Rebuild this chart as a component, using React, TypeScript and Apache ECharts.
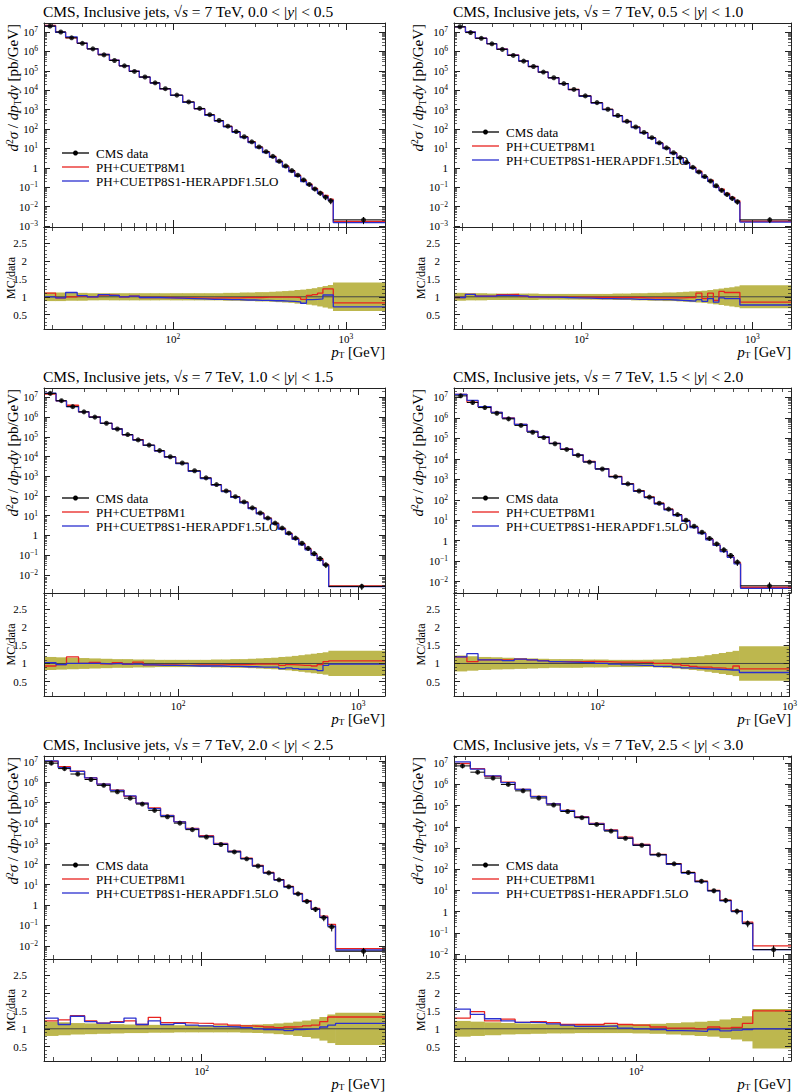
import React, { useEffect, useRef } from 'react';
import * as echarts from 'echarts';

// ---------------- data ----------------
const EDGES = [18, 21, 24, 28, 32, 37, 43, 49, 56, 64, 74, 84, 97, 114, 133, 153, 174, 196, 220, 245, 272, 300, 330, 362, 395, 430, 468, 507, 548, 592, 638, 686, 737, 790, 846];
const Y_LO = ['0.0', '0.5', '1.0', '1.5', '2.0', '2.5'];
const Y_HI = ['0.5', '1.0', '1.5', '2.0', '2.5', '3.0'];
const N_REGULAR = [34, 34, 31, 28, 25, 21];
const LAST_EDGE = [1684, 1684, 1410, 1000, 737, 430];

const CMS_1 = [2.0e7, 1.0e7, 5.0e6, 2.6e6, 1.35e6, 6.6e5, 3.4e5, 1.8e5, 9.3e4, 4.8e4, 2.4e4, 1.2e4, 5.6e3, 2.5e3, 1.15e3, 5.5e2, 2.75e2, 1.4e2, 7.4e1, 4.0e1, 2.2e1, 1.2e1, 6.8, 3.9, 2.2, 1.25, 0.72, 0.42, 0.24, 0.14, 0.082, 0.05, 0.031, 0.02, 0.0021];
const CMS_2 = [1.85e7, 9.3e6, 4.7e6, 2.45e6, 1.27e6, 6.2e5, 3.15e5, 1.67e5, 8.6e4, 4.4e4, 2.2e4, 1.1e4, 5.1e3, 2.3e3, 1.05e3, 5.0e2, 2.5e2, 1.28e2, 6.7e1, 3.6e1, 1.95e1, 1.07e1, 6.0, 3.4, 1.9, 1.07, 0.62, 0.36, 0.21, 0.12, 0.07, 0.043, 0.027, 0.018, 0.0021];
const CMS_3 = [1.6e7, 6.8e6, 3.4e6, 1.85e6, 1.0e6, 4.9e5, 2.5e5, 1.3e5, 7.0e4, 3.8e4, 2.0e4, 9.8e3, 4.7e3, 1.9e3, 8.3e2, 3.8e2, 1.8e2, 9.2e1, 5.0e1, 2.5e1, 1.37e1, 7.6, 4.2, 2.35, 1.3, 0.73, 0.4, 0.22, 0.12, 0.067, 0.032, 0.0026];
const CMS_4 = [1.2e7, 5.7e6, 3.2e6, 1.7e6, 9.0e5, 4.3e5, 2.0e5, 1.1e5, 5.5e4, 2.9e4, 1.5e4, 7.0e3, 3.2e3, 1.35e3, 6.0e2, 2.7e2, 1.35e2, 6.8e1, 3.5e1, 1.9e1, 1.0e1, 5.1, 2.6, 1.3, 0.7, 0.36, 0.19, 0.09, 0.0063];
const CMS_5 = [8.5e6, 4.6e6, 2.5e6, 1.35e6, 7.0e5, 3.4e5, 1.65e5, 8.5e4, 4.2e4, 2.05e4, 1.0e4, 4.8e3, 2.1e3, 9.0e2, 3.9e2, 1.8e2, 8.0e1, 3.7e1, 1.7e1, 7.8, 3.5, 1.5, 0.62, 0.24, 0.085, 0.0055];
const CMS_6 = [7.5e6, 3.8e6, 2.0e6, 1.0e6, 5.0e5, 2.3e5, 1.07e5, 5.3e4, 2.7e4, 1.3e4, 6.3e3, 2.9e3, 1.35e3, 4.8e2, 1.8e2, 7.0e1, 2.7e1, 9.6, 3.4, 1.05, 0.28, 0.016];

// MC / data ratios (PH+CUETP8M1 = red, PH+CUETP8S1-HERAPDF1.5LO = blue)
const RED_1 = [1.10, 0.97, 1.00, 1.02, 1.00, 1.05, 1.04, 1.00, 1.02, 0.98, 0.98, 0.98, 0.97, 0.97, 0.96, 0.96, 0.97, 0.97, 0.97, 0.98, 0.98, 0.98, 0.99, 0.99, 0.99, 0.99, 0.99, 0.98, 0.93, 1.04, 1.06, 1.10, 1.22, 1.22, 0.83];
const BLUE_1 = [1.00, 0.97, 1.12, 1.03, 1.00, 1.06, 1.04, 1.00, 1.02, 0.98, 0.98, 0.97, 0.96, 0.95, 0.94, 0.93, 0.93, 0.92, 0.92, 0.91, 0.91, 0.90, 0.90, 0.89, 0.89, 0.88, 0.87, 0.86, 0.82, 0.92, 0.93, 0.94, 1.05, 1.05, 0.72];
const RED_2 = [0.98, 1.07, 1.02, 1.02, 1.06, 1.07, 1.02, 1.00, 0.99, 0.99, 0.99, 0.99, 0.99, 0.98, 0.98, 0.98, 0.98, 0.98, 0.97, 0.97, 0.97, 0.97, 0.97, 0.97, 0.98, 0.98, 1.10, 0.95, 1.10, 0.90, 1.15, 1.12, 1.12, 1.12, 0.85];
const BLUE_2 = [0.98, 1.07, 1.02, 1.02, 1.04, 1.03, 1.02, 1.00, 0.99, 0.99, 0.98, 0.97, 0.96, 0.95, 0.95, 0.94, 0.94, 0.93, 0.93, 0.92, 0.92, 0.92, 0.91, 0.90, 0.89, 0.88, 0.92, 0.87, 0.95, 0.85, 0.97, 0.95, 0.95, 0.95, 0.77];
const RED_3 = [0.93, 0.97, 1.18, 1.00, 1.03, 0.99, 1.02, 0.98, 1.04, 0.96, 0.96, 0.96, 0.95, 0.96, 0.96, 0.96, 0.97, 0.97, 0.97, 0.98, 0.98, 0.98, 0.98, 0.95, 0.97, 0.96, 0.95, 0.95, 0.93, 0.97, 1.05, 1.07];
const BLUE_3 = [1.02, 0.97, 1.00, 1.00, 1.00, 0.99, 1.00, 0.98, 0.98, 0.96, 0.95, 0.95, 0.94, 0.93, 0.93, 0.93, 0.92, 0.92, 0.91, 0.91, 0.90, 0.90, 0.90, 0.86, 0.88, 0.86, 0.84, 0.84, 0.83, 0.80, 0.95, 0.98];
const RED_4 = [1.18, 1.05, 1.10, 1.10, 1.10, 1.12, 1.10, 1.08, 1.05, 1.05, 1.05, 1.06, 1.05, 1.04, 1.04, 1.03, 1.03, 1.00, 1.00, 0.98, 0.95, 0.92, 0.90, 0.90, 0.88, 0.87, 0.85, 0.93, 0.85];
const BLUE_4 = [1.18, 1.27, 1.10, 1.10, 1.08, 1.12, 1.10, 1.07, 1.05, 1.04, 1.03, 1.02, 1.00, 0.98, 0.96, 0.95, 0.95, 0.92, 0.92, 0.90, 0.88, 0.87, 0.86, 0.85, 0.84, 0.83, 0.82, 0.82, 0.75];
const RED_5 = [1.22, 1.25, 1.37, 1.22, 1.16, 1.20, 1.22, 1.12, 1.32, 1.17, 1.17, 1.16, 1.15, 1.13, 1.10, 1.08, 1.07, 1.05, 1.03, 1.05, 1.06, 1.08, 1.10, 1.20, 1.33, 1.33];
const BLUE_5 = [1.30, 1.12, 1.35, 1.20, 1.16, 1.18, 1.30, 1.12, 1.22, 1.12, 1.15, 1.10, 1.08, 1.06, 1.05, 1.03, 1.00, 0.98, 0.97, 0.95, 0.98, 0.99, 1.00, 1.05, 1.10, 1.15];
const RED_6 = [1.30, 1.48, 1.22, 1.27, 1.18, 1.20, 1.17, 1.12, 1.12, 1.12, 1.15, 1.12, 1.10, 1.05, 1.02, 1.02, 1.00, 1.05, 1.02, 1.04, 1.15, 1.50];
const BLUE_6 = [1.55, 1.40, 1.28, 1.22, 1.18, 1.17, 1.14, 1.10, 1.07, 1.07, 1.08, 1.02, 1.00, 0.98, 0.95, 0.94, 0.93, 0.98, 0.94, 0.96, 0.98, 1.00];

// relative data uncertainty (half-width of the band)
const UNC_1 = [0.12, 0.12, 0.11, 0.11, 0.10, 0.10, 0.10, 0.10, 0.10, 0.10, 0.10, 0.10, 0.10, 0.10, 0.10, 0.10, 0.10, 0.11, 0.11, 0.12, 0.12, 0.13, 0.13, 0.14, 0.15, 0.16, 0.17, 0.19, 0.20, 0.22, 0.24, 0.27, 0.30, 0.33, 0.40];
const UNC_2 = [0.11, 0.10, 0.10, 0.09, 0.09, 0.09, 0.09, 0.09, 0.08, 0.08, 0.08, 0.08, 0.08, 0.08, 0.08, 0.09, 0.09, 0.10, 0.10, 0.11, 0.11, 0.12, 0.12, 0.13, 0.14, 0.15, 0.16, 0.17, 0.19, 0.21, 0.23, 0.25, 0.27, 0.29, 0.32];
const UNC_3 = [0.18, 0.17, 0.16, 0.15, 0.14, 0.13, 0.12, 0.12, 0.11, 0.11, 0.10, 0.10, 0.10, 0.10, 0.10, 0.11, 0.11, 0.12, 0.12, 0.13, 0.14, 0.15, 0.16, 0.18, 0.19, 0.21, 0.23, 0.25, 0.27, 0.29, 0.31, 0.35];
const UNC_4 = [0.22, 0.20, 0.18, 0.17, 0.16, 0.15, 0.14, 0.13, 0.12, 0.12, 0.12, 0.11, 0.11, 0.10, 0.10, 0.10, 0.10, 0.11, 0.12, 0.14, 0.16, 0.18, 0.20, 0.23, 0.26, 0.29, 0.32, 0.35, 0.48];
const UNC_5 = [0.20, 0.18, 0.16, 0.15, 0.14, 0.13, 0.12, 0.12, 0.11, 0.11, 0.10, 0.10, 0.10, 0.10, 0.10, 0.11, 0.12, 0.13, 0.15, 0.17, 0.20, 0.23, 0.27, 0.33, 0.40, 0.45];
const UNC_6 = [0.22, 0.20, 0.18, 0.16, 0.15, 0.14, 0.13, 0.13, 0.12, 0.12, 0.12, 0.12, 0.13, 0.14, 0.16, 0.18, 0.20, 0.22, 0.26, 0.30, 0.35, 0.55];

const CMS = [CMS_1, CMS_2, CMS_3, CMS_4, CMS_5, CMS_6];
const RED_R = [RED_1, RED_2, RED_3, RED_4, RED_5, RED_6];
const BLUE_R = [BLUE_1, BLUE_2, BLUE_3, BLUE_4, BLUE_5, BLUE_6];
const UNC = [UNC_1, UNC_2, UNC_3, UNC_4, UNC_5, UNC_6];

const LEGEND_LABELS = ['CMS data', 'PH+CUETP8M1', 'PH+CUETP8S1-HERAPDF1.5LO'];

// axis ticks
const X_MAJOR = [100, 1000];
const X_MINOR = [20, 30, 40, 50, 60, 70, 80, 90, 200, 300, 400, 500, 600, 700, 800, 900, 2000];
const Y_MAJOR = [1e-3, 1e-2, 1e-1, 1, 10, 100, 1e3, 1e4, 1e5, 1e6, 1e7];
const Y_MINOR: number[] = [];
for (let k = -4; k <= 7; k++) for (let m = 2; m <= 9; m++) Y_MINOR.push(m * Math.pow(10, k));
const R_MAJOR = [0.5, 1, 1.5, 2, 2.5];
const R_MINOR = [0.2, 0.3, 0.4, 0.6, 0.7, 0.8, 0.9, 1.1, 1.2, 1.3, 1.4, 1.6, 1.7, 1.8, 1.9, 2.1, 2.2, 2.3, 2.4, 2.6, 2.7, 2.8, 2.9];
const Y_MIN = [9e-4, 9e-4, 1.2e-3, 2.8e-3, 2.3e-3, 5.8e-3];
const Y_MAX = [2.9e7, 2.9e7, 3.0e7, 2.9e7, 1.9e7, 2.2e7];
const R_MIN = 0.1;
const R_MAX = 2.95;

// ---------------- layout / style ----------------
const FONT = '"Liberation Serif", "Times New Roman", serif';
const AX = '#222';
const RED = '#e8231f';
const BLUE = '#2a2fd0';
const BAND = '#bdb74e';
const COL_LEFT = [44, 454];
const COL_WIDTH = [341, 337];
const ROW_TOP = [23, 388, 756];
const MAIN_H = [204, 205, 203];
const RATIO_H = [102, 103, 102];
const YLABEL_GAP = [31, 36];
const RLABEL_MARGIN = [17, 14];
const LEGEND_DY = [130, 109, 110, 110, 109, 109];

const LABEL_RICH = {
  b: { fontSize: 11, lineHeight: 13, fontFamily: FONT, color: '#000' },
  s: { fontSize: 7.5, lineHeight: 7, verticalAlign: 'top', fontFamily: FONT, color: '#000' },
};
const mkRich = (size: number, lh: number) => ({
  n: { fontSize: size, fontFamily: FONT, fill: '#000', lineHeight: lh },
  i: { fontSize: size, fontFamily: FONT, fontStyle: 'italic', fill: '#000', lineHeight: lh },
  sp: { fontSize: size * 0.64, fontFamily: FONT, fill: '#000', lineHeight: lh * 0.55, verticalAlign: 'top' },
  sb: { fontSize: size * 0.64, fontFamily: FONT, fill: '#000', lineHeight: lh * 0.55, verticalAlign: 'bottom' },
});
const TITLE_RICH = mkRich(15.5, 18);
const YLAB_RICH = mkRich(15, 18);
const PT_RICH = mkRich(14.5, 14);

const supText = (n: number) => (n < 0 ? '\u2212' + -n : '' + n);
const logLabel = (v: number) => {
  const k = Math.round(Math.log10(v));
  return k === 0 ? '{b|1}' : '{b|10}{s|' + supText(k) + '}';
};
const ratioLabel = (v: number) => '{b|' + String(v) + '}';

function xAxes(g: number, xmin: number, xmax: number, labels: boolean) {
  const base: any = {
    type: 'log', logBase: 10, gridIndex: g, min: xmin, max: xmax, z: 5,
    splitLine: { show: false }, silent: true,
  };
  const line = { show: true, onZero: false, lineStyle: { color: AX, width: 1 } };
  const noLine = { show: false, onZero: false };
  const tick = (vals: number[], len: number, w: number) => ({ show: true, inside: true, length: len, customValues: vals, lineStyle: { color: AX, width: w } });
  return [
    { ...base, position: 'bottom', axisLine: line, axisTick: tick(X_MAJOR, 7, 1),
      axisLabel: { show: labels, customValues: X_MAJOR, formatter: logLabel, rich: LABEL_RICH, margin: 3 } },
    { ...base, position: 'bottom', axisLine: noLine, axisTick: tick(X_MINOR, 4, 0.8), axisLabel: { show: false } },
    { ...base, position: 'top', axisLine: line, axisTick: tick(X_MAJOR, 7, 1), axisLabel: { show: false } },
    { ...base, position: 'top', axisLine: noLine, axisTick: tick(X_MINOR, 4, 0.8), axisLabel: { show: false } },
  ];
}

function yAxes(g: number, type: string, min: number, max: number, major: number[], minor: number[], fmt: any, margin: number) {
  const base: any = { type, gridIndex: g, min, max, z: 5, splitLine: { show: false }, silent: true };
  if (type === 'log') base.logBase = 10;
  const line = { show: true, onZero: false, lineStyle: { color: AX, width: 1 } };
  const noLine = { show: false, onZero: false };
  const tick = (vals: number[], len: number, w: number) => ({ show: true, inside: true, length: len, customValues: vals, lineStyle: { color: AX, width: w } });
  return [
    { ...base, position: 'left', axisLine: line, axisTick: tick(major, 6, 1),
      axisLabel: { show: true, customValues: major, formatter: fmt, rich: LABEL_RICH, margin } },
    { ...base, position: 'left', axisLine: noLine, axisTick: tick(minor, 3, 0.7), axisLabel: { show: false } },
    { ...base, position: 'right', axisLine: line, axisTick: tick(major, 6, 1), axisLabel: { show: false } },
    { ...base, position: 'right', axisLine: noLine, axisTick: tick(minor, 3, 0.7), axisLabel: { show: false } },
  ];
}

const errRender = (params: any, api: any) => {
  const lo = api.value(0), hi = api.value(1), c = api.value(2), v = api.value(3), e = api.value(4);
  const a = api.coord([lo, v]);
  const b = api.coord([hi, v]);
  const t = api.coord([c, v * (1 + e)]);
  const u = api.coord([c, v * (1 - e)]);
  return {
    type: 'group',
    children: [
      { type: 'line', shape: { x1: a[0], y1: a[1], x2: b[0], y2: b[1] }, style: { stroke: '#000', lineWidth: 1 } },
      { type: 'line', shape: { x1: t[0], y1: t[1], x2: u[0], y2: u[1] }, style: { stroke: '#000', lineWidth: 1 } },
    ],
  };
};

const bandRender = (params: any, api: any) => {
  const a = api.coord([api.value(0), api.value(3)]);
  const b = api.coord([api.value(1), api.value(2)]);
  return {
    type: 'rect',
    shape: { x: a[0] - 0.3, y: a[1], width: b[0] - a[0] + 0.6, height: b[1] - a[1] },
    style: { fill: BAND },
  };
};

function buildOption() {
  const grid: any[] = [];
  const xAxis: any[] = [];
  const yAxis: any[] = [];
  const series: any[] = [];
  const graphic: any[] = [];

  for (let p = 0; p < 6; p++) {
    const col = p % 2;
    const row = Math.floor(p / 2);
    const left = COL_LEFT[col];
    const width = COL_WIDTH[col];
    const top = ROW_TOP[row];
    const mh = MAIN_H[row];
    const rh = RATIO_H[row];
    const n = N_REGULAR[p];
    const edges = EDGES.slice(0, n + 1).concat([LAST_EDGE[p]]);
    const xmin = edges[0];
    const xmax = LAST_EDGE[p];
    const vals = CMS[p];
    const red = RED_R[p];
    const blue = BLUE_R[p];
    const unc = UNC[p];
    const centers = vals.map((_, i) => (edges[i] + edges[i + 1]) / 2);
    const gm = 2 * p;
    const gr = 2 * p + 1;

    grid.push({ left, top, width, height: mh }, { left, top: top + mh, width, height: rh });
    xAxis.push(...xAxes(gm, xmin, xmax, false), ...xAxes(gr, xmin, xmax, true));
    yAxis.push(
      ...yAxes(gm, 'log', Y_MIN[p], Y_MAX[p], Y_MAJOR, Y_MINOR, logLabel, 6),
      ...yAxes(gr, 'value', R_MIN, R_MAX, R_MAJOR, R_MINOR, ratioLabel, RLABEL_MARGIN[col]),
    );

    const ax = (g: number) => ({ xAxisIndex: 4 * g, yAxisIndex: 4 * g });
    const step = (arr: number[]) => edges.map((e, i) => [e, arr[Math.min(i, arr.length - 1)]]);
    const redMain = vals.map((v, i) => v * red[i]);
    const blueMain = vals.map((v, i) => v * blue[i]);

    // main panel
    series.push({ type: 'line', ...ax(gm), data: step(redMain), step: 'end', symbol: 'none', silent: true, lineStyle: { color: RED, width: 1.3 }, z: 3 });
    series.push({ type: 'line', ...ax(gm), data: step(blueMain), step: 'end', symbol: 'none', silent: true, lineStyle: { color: BLUE, width: 1.3 }, z: 4 });
    series.push({
      type: 'custom', ...ax(gm), renderItem: errRender, silent: true, clip: true, z: 5,
      encode: { x: [0, 1, 2], y: [3] },
      data: vals.map((v, i) => [edges[i], edges[i + 1], centers[i], v, unc[i]]),
    });
    series.push({ type: 'scatter', ...ax(gm), data: vals.map((v, i) => [centers[i], v]), symbol: 'circle', symbolSize: 5, itemStyle: { color: '#000' }, silent: true, z: 6 });

    // ratio panel
    series.push({
      type: 'custom', ...ax(gr), renderItem: bandRender, silent: true, clip: true, z: 1,
      encode: { x: [0, 1], y: [2, 3] },
      data: unc.map((e, i) => [edges[i], edges[i + 1], 1 - e, 1 + e]),
    });
    series.push({ type: 'line', ...ax(gr), data: [[xmin, 1], [xmax, 1]], symbol: 'none', silent: true, lineStyle: { color: '#444', width: 1 }, z: 2 });
    series.push({ type: 'line', ...ax(gr), data: step(red), step: 'end', symbol: 'none', silent: true, lineStyle: { color: RED, width: 1.3 }, z: 3 });
    series.push({ type: 'line', ...ax(gr), data: step(blue), step: 'end', symbol: 'none', silent: true, lineStyle: { color: BLUE, width: 1.3 }, z: 4 });

    // texts
    graphic.push({
      type: 'text', x: left - 1, y: top - 11.5, silent: true,
      style: {
        text: '{n|CMS, Inclusive jets, \u221A}{i|s}{n| = 7 TeV, ' + Y_LO[p] + ' < |}{i|y}{n|| < ' + Y_HI[p] + '}',
        rich: TITLE_RICH, align: 'left', verticalAlign: 'middle',
      },
    });
    graphic.push({
      type: 'text', x: left - YLABEL_GAP[col], y: top + 1, rotation: Math.PI / 2, silent: true,
      style: {
        text: '{i|d}{sp|2}{i|\u03C3}{n| / }{i|dp}{sb|T}{i|dy}{n| [pb/GeV]}',
        rich: YLAB_RICH, align: 'right', verticalAlign: 'middle',
      },
    });
    graphic.push({
      type: 'text', x: left - 33, y: top + mh + rh / 2, rotation: Math.PI / 2, silent: true,
      style: { text: 'MC/data', fontSize: 12, lineHeight: 12, fontFamily: FONT, fill: '#000', align: 'center', verticalAlign: 'middle' },
    });
    graphic.push({
      type: 'text', x: left + width, y: top + mh + rh + 23, silent: true,
      style: { text: '{i|p}{sb|T}{n| [GeV]}', rich: PT_RICH, align: 'right', verticalAlign: 'middle' },
    });

    // legend
    const colors = ['#000', RED, BLUE];
    for (let k = 0; k < 3; k++) {
      const y = top + LEGEND_DY[p] + 14 * k;
      graphic.push({ type: 'line', silent: true, shape: { x1: left + 18, y1: y, x2: left + 45, y2: y }, style: { stroke: colors[k], lineWidth: 1.3 } });
      if (k === 0) graphic.push({ type: 'circle', silent: true, shape: { cx: left + 31.5, cy: y, r: 2.5 }, style: { fill: '#000' } });
      graphic.push({
        type: 'text', x: left + 52, y, silent: true,
        style: { text: LEGEND_LABELS[k], fontSize: 13, fontFamily: FONT, fill: '#000', align: 'left', verticalAlign: 'middle' },
      });
    }
  }

  return {
    animation: false,
    backgroundColor: '#fff',
    textStyle: { fontFamily: FONT },
    grid, xAxis, yAxis, series, graphic,
  };
}

export default function App() {
  const ref = useRef<HTMLDivElement>(null);
  useEffect(() => {
    const chart = echarts.init(ref.current as HTMLDivElement, null, { renderer: 'svg' });
    chart.setOption(buildOption() as any);
    return () => chart.dispose();
  }, []);
  return <div ref={ref} style={{ position: 'absolute', left: 0, top: 0, width: 800, height: 1092, background: '#fff' }} />;
}
